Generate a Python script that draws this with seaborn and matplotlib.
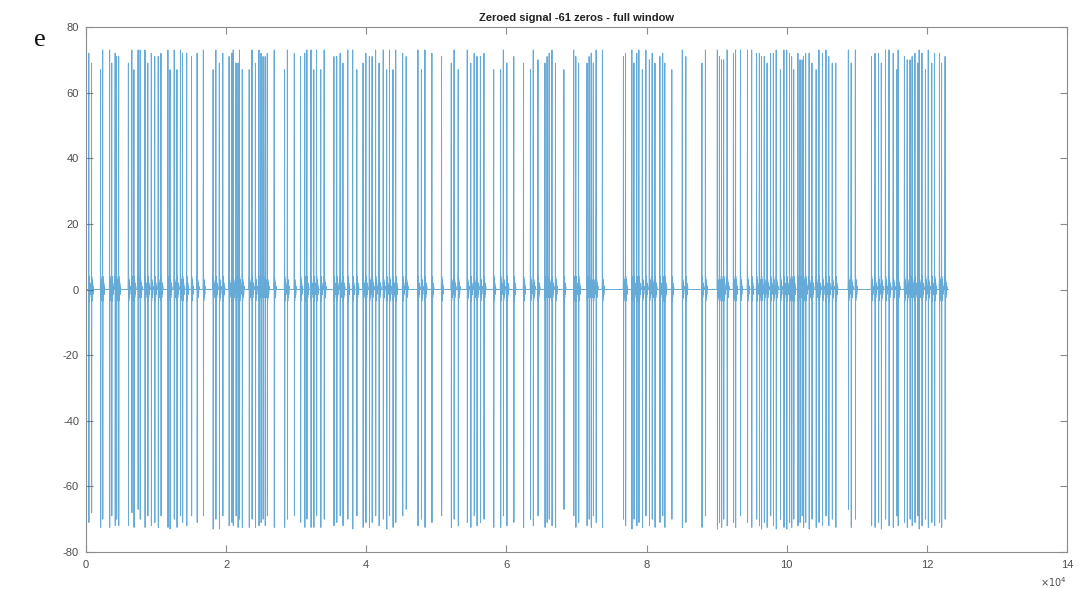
import numpy as np
import pandas as pd
import matplotlib
matplotlib.use("Agg")
import matplotlib.pyplot as plt
from matplotlib.ticker import FuncFormatter, MultipleLocator
import seaborn as sns

# Spike times (in units of 1e4 samples), positive peaks and negative troughs
spike_pos = [
    0.040, 0.079, 0.208, 0.238, 0.337, 0.367, 0.416, 0.436, 0.466, 0.605,
    0.654, 0.684, 0.743, 0.773, 0.842, 0.882, 0.932, 0.981, 1.031, 1.070,
    1.169, 1.199, 1.259, 1.298, 1.348, 1.378, 1.437, 1.506, 1.586, 1.675,
    1.814, 1.853, 1.903, 1.952, 2.042, 2.081, 2.101, 2.141, 2.170, 2.190,
    2.230, 2.329, 2.369, 2.418, 2.468, 2.498, 2.527, 2.557, 2.587, 2.686,
    2.834, 2.874, 2.973, 3.062, 3.122, 3.152, 3.211, 3.251, 3.290, 3.350,
    3.399, 3.538, 3.578, 3.627, 3.667, 3.736, 3.806, 3.865, 3.954, 3.994,
    4.044, 4.083, 4.133, 4.182, 4.242, 4.291, 4.331, 4.381, 4.420, 4.519,
    4.569, 4.737, 4.787, 4.837, 4.936, 5.074, 5.213, 5.253, 5.312, 5.441,
    5.491, 5.540, 5.580, 5.629, 5.679, 5.818, 5.917, 5.956, 6.006, 6.105,
    6.244, 6.343, 6.383, 6.450, 6.550, 6.580, 6.610, 6.650, 6.700, 6.820,
    6.960, 6.990, 7.030, 7.150, 7.180, 7.210, 7.240, 7.280, 7.370, 7.670,
    7.700, 7.790, 7.820, 7.860, 7.890, 7.940, 7.990, 8.040, 8.080, 8.120,
    8.190, 8.230, 8.260, 8.360, 8.510, 8.560, 8.790, 8.840, 9.010, 9.040,
    9.070, 9.100, 9.150, 9.240, 9.270, 9.340, 9.440, 9.500, 9.570, 9.610,
    9.640, 9.680, 9.720, 9.770, 9.810, 9.850, 9.910, 9.960, 10.000, 10.040,
    10.070, 10.100, 10.160, 10.190, 10.220, 10.240, 10.270, 10.320, 10.360, 10.420,
    10.460, 10.510, 10.560, 10.600, 10.650, 10.700, 10.880, 10.920, 10.980, 11.210,
    11.260, 11.310, 11.350, 11.410, 11.460, 11.520, 11.570, 11.590, 11.680, 11.720,
    11.760, 11.790, 11.830, 11.870, 11.890, 11.930, 11.980, 12.020, 12.070, 12.110,
    12.180, 12.210, 12.260,
]
spike_up = [
    72, 69, 67, 73, 73, 69, 72, 71, 71, 69,
    73, 67, 73, 73, 73, 69, 72, 71, 71, 72,
    73, 67, 73, 67, 73, 72, 72, 71, 72, 73,
    67, 73, 69, 72, 71, 72, 73, 69, 69, 73,
    67, 67, 73, 69, 73, 72, 71, 71, 72, 73,
    67, 73, 72, 71, 72, 73, 73, 67, 73, 67,
    73, 71, 71, 72, 69, 73, 73, 67, 69, 72,
    71, 71, 73, 69, 73, 67, 73, 67, 73, 72,
    71, 73, 67, 73, 72, 71, 69, 73, 67, 73,
    69, 72, 71, 71, 72, 67, 67, 73, 69, 71,
    69, 67, 73, 70, 69, 71, 72, 73, 69, 67,
    73, 71, 69, 69, 71, 72, 69, 73, 73, 71,
    72, 73, 69, 72, 73, 67, 73, 70, 72, 69,
    71, 72, 69, 67, 73, 71, 69, 73, 73, 71,
    70, 70, 73, 72, 73, 73, 73, 73, 72, 72,
    71, 71, 69, 72, 72, 73, 67, 73, 73, 72,
    71, 67, 72, 70, 70, 71, 72, 72, 69, 67,
    73, 72, 73, 71, 69, 69, 73, 69, 73, 71,
    72, 72, 69, 73, 73, 72, 67, 73, 71, 70,
    70, 71, 72, 69, 73, 72, 67, 73, 69, 72,
    72, 69, 71,
]
spike_down = [
    -71, -68, -72.5, -70, -72.5, -69, -72, -70, -72, -72,
    -68, -72.5, -67, -70, -72.5, -69, -72, -71, -72.5, -69,
    -72.5, -73, -70, -72.5, -69, -71, -72, -69, -71, -69,
    -73, -70, -73, -69, -72, -71, -72, -69, -72.5, -70,
    -72.5, -72.5, -70, -72.5, -72, -71, -70, -72, -69, -72.5,
    -72.5, -70, -69, -71, -72.5, -70, -72.5, -72.5, -69, -72.5,
    -70, -72, -71, -69, -72, -70, -73, -69, -72.5, -71,
    -72.5, -71, -69, -72, -70, -73, -69, -72.5, -71, -69,
    -67, -72, -70, -72.5, -71, -69, -72.5, -70, -72, -71,
    -72.5, -69, -72, -71, -70, -72.5, -72.5, -69, -72, -71,
    -72.5, -70, -72, -69, -72.5, -71, -70, -72, -72.5, -67,
    -69, -72.5, -71, -72, -70, -72.5, -69, -71, -72.5, -70,
    -72, -73, -70, -72, -71, -72.5, -69, -72, -70, -72.5,
    -71, -69, -72.5, -70, -72.5, -71, -72.5, -69, -73, -71,
    -72.5, -70, -72, -71, -72.5, -69, -71, -72.5, -70, -72,
    -73, -71, -72.5, -69, -72, -73, -70, -72.5, -73, -71,
    -72.5, -70, -72, -71, -69, -72.5, -71, -73, -70, -72.5,
    -71, -72, -69, -72, -70, -72.5, -67, -72.5, -70, -72,
    -72.5, -71, -73, -70, -72, -72.5, -69, -72, -71, -72.5,
    -70, -72, -71, -69, -73, -72, -70, -72.5, -71, -72,
    -71, -72.5, -70,
]
signal_end = 12.31   # last sample, units of 1e4

# Waveform around each spike: sample offsets and the small ripple that follows
ripple_offsets = [-50, -25, 0, 14, 30, 55, 85, 120, 160, 205, 255, 310]
ripple_values = [0.0, 2.5, None, None, 4.0, -3.5, 3.0, -2.5, 2.0, -1.5, 1.0, 0.0]

xs, ys = [0.0], [0.0]
for i, (p, up, dn) in enumerate(zip(spike_pos, spike_up, spike_down)):
    t = p * 1e4
    nxt = spike_pos[i + 1] * 1e4 if i + 1 < len(spike_pos) else signal_end * 1e4
    for off, val in zip(ripple_offsets, ripple_values):
        if t + off >= nxt - 60:
            break
        if off == 0:
            val = up
        elif off == 14:
            val = dn
        xs.append(t + off)
        ys.append(val)
xs.append(signal_end * 1e4)
ys.append(0.0)
df = pd.DataFrame({"sample": xs, "value": ys})

sns.set_theme(style="white")
plt.rcParams["font.family"] = ["Liberation Sans", "DejaVu Sans"]
plt.rcParams["axes.unicode_minus"] = False

fig = plt.figure(figsize=(10.91, 5.89), dpi=100)
W, H = 1091, 589
ax = fig.add_axes([86 / W, 1 - 552 / H, (1067 - 86) / W, (552 - 27) / H])

sns.lineplot(data=df, x="sample", y="value", ax=ax, color="#0072BD",
             linewidth=0.7, alpha=0.6, estimator=None, sort=False)

ax.set_xlim(0, 140000)
ax.set_ylim(-80, 80)
ax.xaxis.set_major_locator(MultipleLocator(20000))
ax.yaxis.set_major_locator(MultipleLocator(20))
ax.xaxis.set_major_formatter(FuncFormatter(lambda v, _: f"{v / 1e4:g}"))
ax.set_xlabel("")
ax.set_ylabel("")

frame = "#8c8c8c"
for s in ax.spines.values():
    s.set_visible(True)
    s.set_color(frame)
    s.set_linewidth(0.8)
ax.tick_params(axis="both", which="major", direction="in", length=5, width=0.8,
               color=frame, labelcolor="#4d4d4d", labelsize=8,
               top=True, right=True, bottom=True, left=True)
ax.tick_params(axis="x", pad=6)
ax.tick_params(axis="y", pad=5)

ax.set_title("Zeroed signal -61 zeros - full window", fontsize=8,
             fontweight="bold", color="#222222", pad=4)
ax.text(1.0, -0.045, r"$\times10^{4}$", transform=ax.transAxes, ha="right",
        va="top", fontsize=7, color="#4d4d4d")
fig.text(40 / W, 1 - 40 / H, "e", family=["Liberation Serif", "DejaVu Serif"],
         fontsize=19, ha="center", va="center", color="#111111")

fig.savefig("out.png", dpi=100)
